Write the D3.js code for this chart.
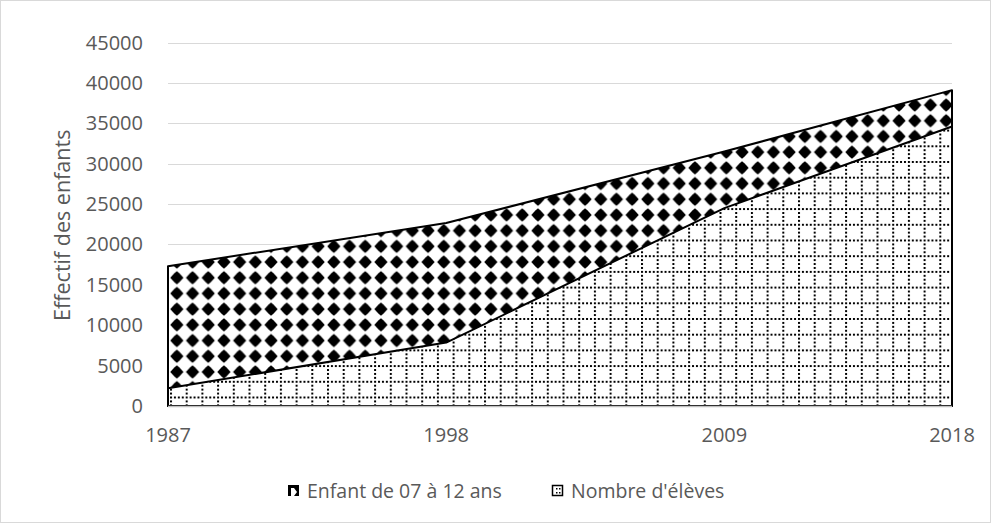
<!DOCTYPE html>
<html>
<head>
<meta charset="utf-8">
<script src="https://cdn.jsdelivr.net/npm/d3@7"></script>
<style>
  body { margin: 0; background: #fff; }
  text { font-family: "Open Sans", "Liberation Sans", sans-serif; fill: #595959; }
</style>
</head>
<body>
<div id="chart"></div>
<script>
// chart values
const years = [1987, 1998, 2009, 2018];
const enfants = [17300, 22650, 31500, 39100];   // Enfant de 07 à 12 ans
const eleves = [2200, 7850, 24500, 34600];      // Nombre d'élèves
const yTickValues = [0, 5000, 10000, 15000, 20000, 25000, 30000, 35000, 40000, 45000];
const seriesNames = ["Enfant de 07 à 12 ans", "Nombre d'élèves"];
const yAxisLabel = "Effectif des enfants";

const width = 991, height = 523;
const margin = {top: 42.5, right: 39, bottom: 117, left: 168};

const svg = d3.select('#chart').append('svg')
    .attr('width', width)
    .attr('height', height);

// outer frame
svg.append('rect')
    .attr('x', 0.5).attr('y', 0.5)
    .attr('width', width - 1).attr('height', height - 1)
    .attr('fill', '#fff')
    .attr('stroke', '#d9d9d9');

// fill patterns
const defs = svg.append('defs');
const tile = 15.7;
const c = tile / 2;

const diamonds = defs.append('pattern')
    .attr('id', 'pat-diamond')
    .attr('patternUnits', 'userSpaceOnUse')
    .attr('x', margin.left + 1).attr('y', 3)
    .attr('width', tile).attr('height', tile);
diamonds.append('rect').attr('width', tile).attr('height', tile).attr('fill', '#fff');
const diamondPts = [[0, -6.6], [2.3, -4.6], [4.6, -2.3], [6.6, 0], [4.6, 2.3], [2.3, 4.6],
                    [0, 6.6], [-2.3, 4.6], [-4.6, 2.3], [-6.6, 0], [-4.6, -2.3], [-2.3, -4.6]];
diamonds.append('path')
    .attr('d', 'M' + diamondPts.map(p => `${c + p[0]},${c + p[1]}`).join('L') + 'Z')
    .attr('fill', '#000');

const dots = defs.append('pattern')
    .attr('id', 'pat-dots')
    .attr('patternUnits', 'userSpaceOnUse')
    .attr('x', margin.left + 2).attr('y', 4)
    .attr('width', tile).attr('height', tile);
dots.append('rect').attr('width', tile).attr('height', tile).attr('fill', '#fff');
dots.append('line')
    .attr('x1', 0).attr('x2', tile).attr('y1', 1).attr('y2', 1)
    .attr('stroke', '#000').attr('stroke-width', 2)
    .attr('stroke-dasharray', `2,${tile / 4 - 2}`);
dots.append('line')
    .attr('x1', 1).attr('x2', 1).attr('y1', 0).attr('y2', tile)
    .attr('stroke', '#000').attr('stroke-width', 2)
    .attr('stroke-dasharray', `2,${tile / 4 - 2}`);

// scales
const x = d3.scaleLinear()
    .domain(d3.extent(years))
    .range([margin.left, width - margin.right]);

const y = d3.scaleLinear()
    .domain([0, 45000])
    .range([height - margin.bottom, margin.top]);

// gridlines
svg.append('g')
    .selectAll('line')
    .data(yTickValues.slice(1))
    .join('line')
    .attr('x1', x.range()[0]).attr('x2', x.range()[1])
    .attr('y1', d => Math.round(y(d)) + 0.5).attr('y2', d => Math.round(y(d)) + 0.5)
    .attr('stroke', '#d9d9d9')
    .attr('stroke-width', 1);

// y tick labels
svg.append('g')
    .selectAll('text')
    .data(yTickValues)
    .join('text')
    .attr('x', margin.left - 25)
    .attr('y', d => y(d))
    .attr('dy', '0.35em')
    .attr('text-anchor', 'end')
    .style('font-size', '20px')
    .text(d => d);

// x tick labels
svg.append('g')
    .selectAll('text')
    .data(years)
    .join('text')
    .attr('x', d => x(d))
    .attr('y', height - margin.bottom + 29)
    .attr('dy', '0.35em')
    .attr('text-anchor', 'middle')
    .style('font-size', '20px')
    .text(d => d);

// y axis title
svg.append('text')
    .attr('transform', `translate(62, ${(margin.top + height - margin.bottom) / 2 + 1}) rotate(-90)`)
    .attr('text-anchor', 'middle')
    .attr('dy', '0.35em')
    .style('font-size', '21.5px')
    .text(yAxisLabel);

// areas (overlapping, not stacked)
const area = d3.area()
    .x(d => x(d.year))
    .y0(y(0))
    .y1(d => y(d.value));

const seriesData = [
    {name: seriesNames[0], fill: 'url(#pat-diamond)', values: years.map((yr, i) => ({year: yr, value: enfants[i]}))},
    {name: seriesNames[1], fill: 'url(#pat-dots)', values: years.map((yr, i) => ({year: yr, value: eleves[i]}))}
];

svg.append('g')
    .selectAll('path')
    .data(seriesData)
    .join('path')
    .attr('d', d => area(d.values))
    .attr('fill', d => d.fill)
    .attr('stroke', '#000')
    .attr('stroke-width', 2)
    .attr('stroke-linejoin', 'round');

// x axis line
svg.append('line')
    .attr('x1', x.range()[0]).attr('x2', x.range()[1])
    .attr('y1', y(0) + 0.5).attr('y2', y(0) + 0.5)
    .attr('stroke', '#bfbfbf')
    .attr('stroke-width', 1.5);

// legend
const legendItems = [
    {name: seriesNames[0], x: 288, textX: 307},
    {name: seriesNames[1], x: 552, textX: 571}
];
const legendY = 491;
const legend = svg.append('g').attr('class', 'legend');

// icon 1: black square with white notch
legend.append('rect')
    .attr('x', legendItems[0].x + 0.5).attr('y', legendY - 5.5)
    .attr('width', 10).attr('height', 10)
    .attr('fill', '#000').attr('stroke', '#000');
legend.append('path')
    .attr('d', `M${legendItems[0].x + 3},${legendY - 3}h3l3,4l-3,4h-3z`)
    .attr('fill', '#fff');

// icon 2: white square with dotted grid
legend.append('rect')
    .attr('x', legendItems[1].x + 0.5).attr('y', legendY - 5.5)
    .attr('width', 10).attr('height', 10)
    .attr('fill', '#fff').attr('stroke', '#000').attr('stroke-width', 1.5);
legend.append('g')
    .selectAll('rect')
    .data([[4, -3], [4, 1], [7, -3], [7, 1]])
    .join('rect')
    .attr('x', d => legendItems[1].x + d[0])
    .attr('y', d => legendY + d[1])
    .attr('width', 1.5).attr('height', 1.5)
    .attr('fill', '#000');

legend.selectAll('.legend-label')
    .data(legendItems)
    .join('text')
    .attr('class', 'legend-label')
    .attr('x', d => d.textX)
    .attr('y', legendY)
    .attr('dy', '0.35em')
    .style('font-size', '19.5px')
    .text(d => d.name);
</script>
</body>
</html>
